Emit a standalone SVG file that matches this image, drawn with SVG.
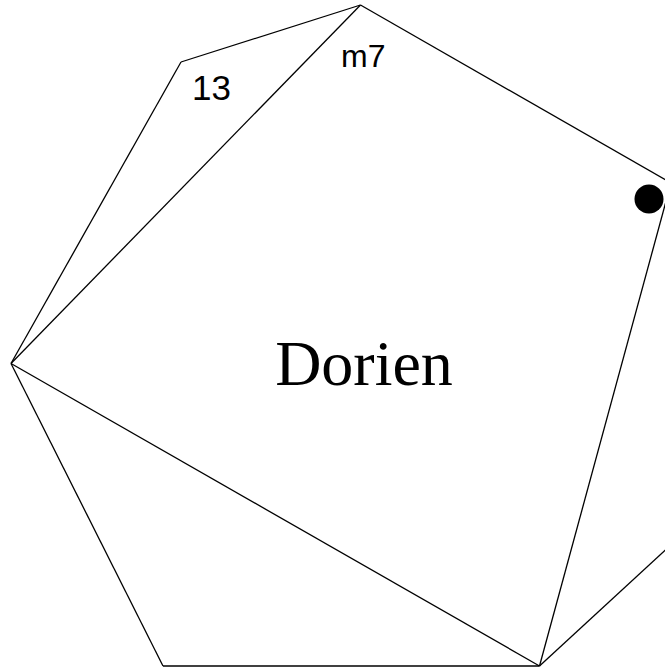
<svg xmlns="http://www.w3.org/2000/svg" width="665" height="671" viewBox="0 0 665 671">
<style>
.e{stroke:#000;stroke-width:1.3;fill:none}
.lbl{font-family:"Liberation Sans",Arial,sans-serif;fill:#000}
.title{font-family:"Liberation Serif","Times New Roman",serif;fill:#000}
</style>
<rect width="665" height="671" fill="#fff"/>
<g id="connectors">
<line class="e" x1="360.5" y1="5" x2="181" y2="62"/>
<line class="e" x1="181" y1="62" x2="11" y2="363.5"/>
<line class="e" x1="11" y1="363.5" x2="163" y2="666"/>
<line class="e" x1="163" y1="666" x2="539.5" y2="666"/>
<line class="e" x1="539.5" y1="666" x2="700" y2="518"/>
<line class="e" x1="360.5" y1="5" x2="671" y2="183"/>
<line class="e" x1="360.5" y1="5" x2="11" y2="363.5"/>
<line class="e" x1="11" y1="363.5" x2="539.5" y2="666"/>
<line class="e" x1="671" y1="183" x2="539.5" y2="666"/>
</g>
<g id="node-dot"><circle cx="649" cy="199" r="14.5" fill="#000"/></g>
<g id="node-13"><text class="lbl" x="192" y="100" font-size="35">13</text></g>
<g id="node-m7"><text class="lbl" x="341" y="67" font-size="32">m7</text></g>
<g id="node-dorien"><text class="title" x="364" y="385" font-size="64" text-anchor="middle">Dorien</text></g>
</svg>
